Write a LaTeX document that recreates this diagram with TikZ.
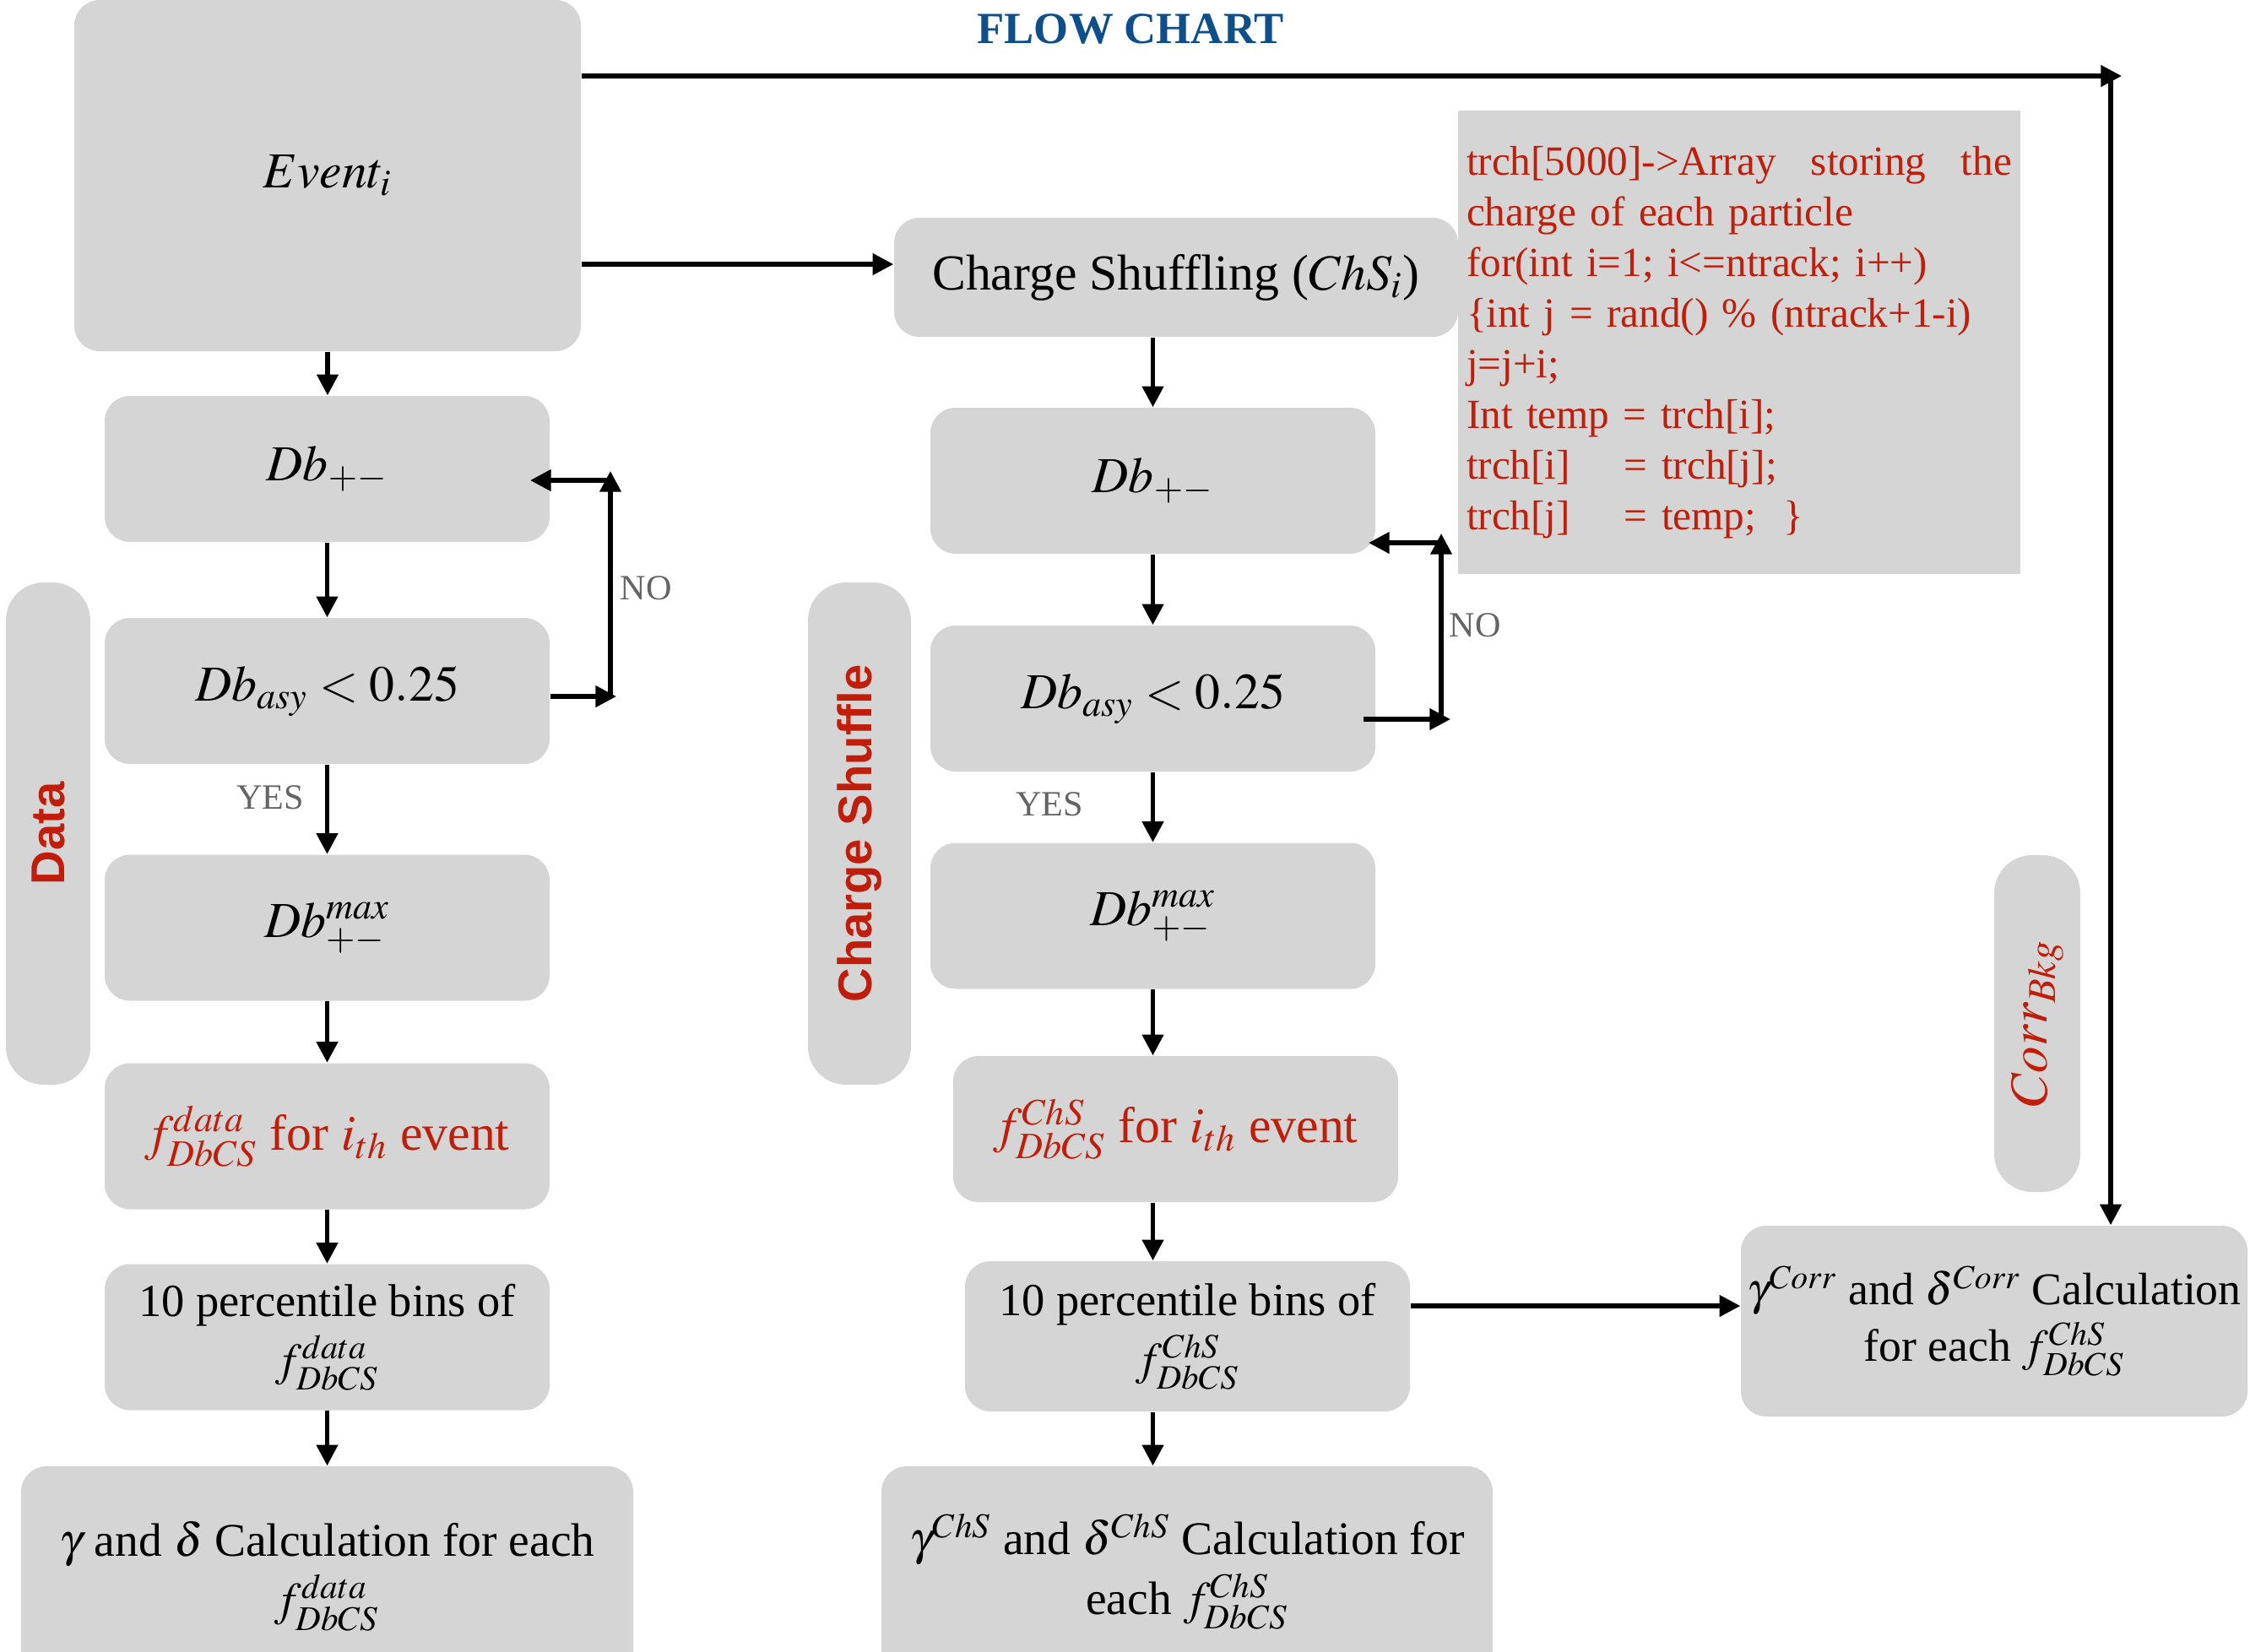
\documentclass[tikz,border=0pt]{standalone}
\usepackage{mathptmx}
\usepackage[no-math]{fontspec}
\setmainfont{Liberation Serif}
\newfontfamily\sidefont{Liberation Sans}
\usetikzlibrary{arrows.meta}
\definecolor{boxgray}{RGB}{213,213,213}
\definecolor{codered}{RGB}{192,30,10}
\definecolor{titleblue}{RGB}{14,78,138}
\definecolor{notegray}{RGB}{100,100,100}

\begin{document}
\begin{tikzpicture}[
    blk/.style={fill=boxgray, rounded corners=0.3cm, align=center, inner sep=2pt, font=\fontsize{17}{21}\selectfont},
    colbox/.style={blk, minimum width=5.27cm, minimum height=1.73cm},
    pcbox/.style={colbox, font=\fontsize{15.5}{20}\selectfont},
    calcbox/.style={blk, font=\fontsize{15.8}{20}\selectfont},
    side/.style={fill=boxgray, rounded corners=0.45cm, rotate=90, text=codered, font=\sidefont\bfseries\fontsize{16}{19}\selectfont},
    arr/.style={-{Triangle[length=7pt,width=7pt]}, line width=1.5pt},
    note/.style={text=notegray, font=\fontsize{12}{14}\selectfont}
]
\useasboundingbox (0,0) rectangle (26.65,-19.56);

\node[font=\bfseries\fontsize{15}{18}\selectfont, text=titleblue] (title) at (13.39,-0.34) {FLOW CHART};

\node[blk, minimum width=6.0cm, minimum height=4.16cm] (event) at (3.88,-2.08) {$Event_i$};
\node[blk, minimum width=6.68cm, minimum height=1.41cm] (chs) at (13.93,-3.285) {Charge Shuffling ($ChS_i$)};
\node[fill=boxgray, minimum width=6.66cm, minimum height=5.49cm, text width=6.46cm, inner sep=0.1cm, align=left, text=codered, font=\fontsize{14}{17.07}\selectfont] (code) at (20.60,-4.055) {trch[5000]->Array\hfill storing\hfill the\\ charge of each particle\\ for(int i=1; i<=ntrack; i++)\\ \{int j = rand() \% (ntrack+1-i)\\ j=j+i;\\ Int temp = trch[i];\\ trch[i]\hspace{1.3em}= trch[j];\\ trch[j]\hspace{1.3em}= temp;\ \ \}};

\node[colbox] (db1) at (3.875,-5.555) {$Db_{+-}$};
\node[colbox] (asy1) at (3.875,-8.185) {$Db_{asy} < 0.25$};
\node[colbox] (max1) at (3.875,-10.99) {$Db^{max}_{+-}$};
\node[colbox, text=codered] (fd1) at (3.875,-13.46) {$f^{data}_{DbCS}$ for $i_{th}$ event};
\node[pcbox] (pc1) at (3.875,-15.84) {10 percentile bins of\\ $f^{data}_{DbCS}$};
\node[calcbox, minimum width=7.25cm, minimum height=2.6cm] (gd1) at (3.875,-18.67) {$\gamma$ and $\delta$ Calculation for each\\ $f^{data}_{DbCS}$};

\node[colbox] (db2) at (13.655,-5.695) {$Db_{+-}$};
\node[colbox] (asy2) at (13.655,-8.275) {$Db_{asy} < 0.25$};
\node[colbox] (max2) at (13.655,-10.85) {$Db^{max}_{+-}$};
\node[colbox, text=codered] (fd2) at (13.925,-13.375) {$f^{ChS}_{DbCS}$ for $i_{th}$ event};
\node[pcbox, minimum height=1.78cm] (pc2) at (14.065,-15.83) {10 percentile bins of\\ $f^{ChS}_{DbCS}$};
\node[calcbox, minimum width=7.24cm, minimum height=2.5cm] (gd2) at (14.06,-18.62) {$\gamma^{ChS}$ and $\delta^{ChS}$ Calculation for\\ each $f^{ChS}_{DbCS}$};

\node[calcbox, minimum width=6.0cm, minimum height=2.26cm, font=\fontsize{15.3}{19}\selectfont] (corr) at (23.62,-15.65) {$\gamma^{Corr}$ and $\delta^{Corr}$ Calculation\\ for each $f^{ChS}_{DbCS}$};

\node[side, minimum width=5.95cm, minimum height=1.0cm] (datalbl) at (0.57,-9.875) {Data};
\node[side, minimum width=5.95cm, minimum height=1.22cm] (chslbl) at (10.18,-9.875) {Charge Shuffle};
\node[side, minimum width=3.99cm, minimum height=1.02cm, font=\fontsize{18}{21}\selectfont] (bkglbl) at (24.13,-12.125) {$Corr_{Bkg}$};

\coordinate (topend) at (25.13,-0.90);
\coordinate (topturn) at (25.0,-0.90);
\draw[arr] (event.east |- topend) -- (topend);
\draw[arr] (topturn) -- (topturn |- corr.north);
\draw[arr] (event.east |- 0,-3.13) -- (chs.west |- 0,-3.13);

\draw[arr] (event.south) -- (event.south |- db1.north);
\draw[arr] (db1.south) -- (asy1.north);
\draw[arr] (asy1.south) -- (max1.north);
\draw[arr] (max1.south) -- (fd1.north);
\draw[arr] (fd1.south) -- (pc1.north);
\draw[arr] (pc1.south) -- (gd1.north);

\coordinate (no1r) at (7.30,-8.25);
\coordinate (no1b) at (7.23,-8.25);
\coordinate (no1t) at (7.23,-5.58);
\coordinate (no1l) at (6.28,-5.69);
\draw[arr] (asy1.east |- no1r) -- (no1r);
\draw[arr] (no1b) -- (no1t);
\draw[arr] (no1b |- no1l) -- (no1l);
\node[note] (no1) at (7.65,-6.97) {NO};
\node[note] (yes1) at (3.20,-9.45) {YES};

\draw[arr] (db2.north |- chs.south) -- (db2.north);
\draw[arr] (db2.south) -- (asy2.north);
\draw[arr] (asy2.south) -- (max2.north);
\draw[arr] (max2.south) -- (max2.south |- fd2.north);
\draw[arr] (max2.south |- fd2.south) -- (max2.south |- pc2.north);
\draw[arr] (max2.south |- pc2.south) -- (max2.south |- gd2.north);

\coordinate (no2s) at (16.15,-8.52);
\coordinate (no2r) at (17.18,-8.52);
\coordinate (no2b) at (17.07,-8.52);
\coordinate (no2t) at (17.07,-6.32);
\coordinate (no2l) at (16.21,-6.43);
\draw[arr] (no2s) -- (no2r);
\draw[arr] (no2b) -- (no2t);
\draw[arr] (no2b |- no2l) -- (no2l);
\node[note] (no2) at (17.47,-7.41) {NO};
\node[note] (yes2) at (12.43,-9.53) {YES};

\coordinate (pcout) at ([yshift=0.36cm]pc2.east);
\draw[arr] (pcout) -- (pcout -| corr.west);
\end{tikzpicture}
\end{document}
